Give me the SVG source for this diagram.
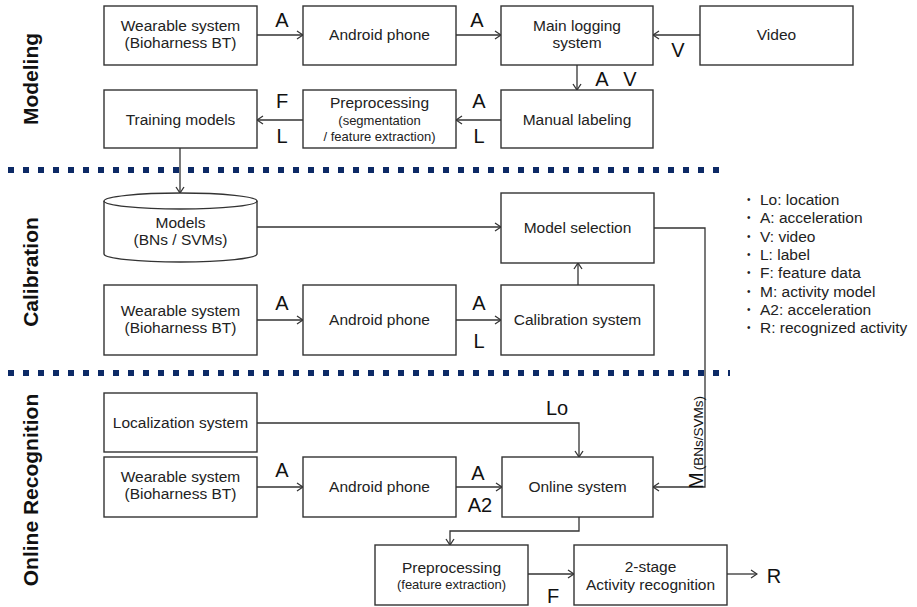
<svg xmlns="http://www.w3.org/2000/svg" width="917" height="607" viewBox="0 0 917 607">
<defs>
<marker id="ah" markerWidth="10" markerHeight="10" refX="9" refY="5" orient="auto" markerUnits="userSpaceOnUse">
<path d="M3,1 L9,5 L3,9" fill="none" stroke="#333" stroke-width="1.3"/>
</marker>
<style>
.box{fill:#fff;stroke:#333;stroke-width:1.4}
.t{font-family:"Liberation Sans",Arial,sans-serif;font-size:15.5px;fill:#222;text-anchor:middle}
.s{font-family:"Liberation Sans",Arial,sans-serif;font-size:13px;fill:#222;text-anchor:middle}
.lbl{font-family:"Liberation Sans",Arial,sans-serif;font-size:20px;fill:#111;text-anchor:middle}
.sec{font-family:"Liberation Sans",Arial,sans-serif;font-size:21px;font-weight:bold;fill:#111;text-anchor:middle}
.leg{font-family:"Liberation Sans",Arial,sans-serif;font-size:15.5px;fill:#222}
.bul{font-family:"Liberation Sans",Arial,sans-serif;font-size:10px;fill:#222}
.c{fill:none;stroke:#333;stroke-width:1.3}
.dot{stroke:#0d2a66;stroke-width:6;stroke-dasharray:6 9;fill:none}
</style>
</defs>
<rect width="917" height="607" fill="#fff"/>

<g id="dividers">
<line class="dot" x1="8" y1="170" x2="720" y2="170"/>
<line class="dot" x1="8" y1="373" x2="730" y2="373"/>
</g>

<g id="sections">
<text class="sec" transform="translate(38,79) rotate(-90)">Modeling</text>
<text class="sec" transform="translate(38,272) rotate(-90)">Calibration</text>
<text class="sec" transform="translate(38,490) rotate(-90)">Online Recognition</text>
</g>

<g id="connectors">
<line class="c" x1="257" y1="35" x2="303" y2="35" marker-end="url(#ah)"/>
<line class="c" x1="456" y1="35" x2="501" y2="35" marker-end="url(#ah)"/>
<line class="c" x1="700" y1="35" x2="653" y2="35" marker-end="url(#ah)"/>
<line class="c" x1="577" y1="65" x2="577" y2="90" marker-end="url(#ah)"/>
<line class="c" x1="501" y1="120" x2="456" y2="120" marker-end="url(#ah)"/>
<line class="c" x1="303" y1="120" x2="257" y2="120" marker-end="url(#ah)"/>
<line class="c" x1="180" y1="148" x2="180" y2="193" marker-end="url(#ah)"/>
<line class="c" x1="257" y1="227" x2="501" y2="227" marker-end="url(#ah)"/>
<line class="c" x1="257" y1="320" x2="303" y2="320" marker-end="url(#ah)"/>
<line class="c" x1="456" y1="320" x2="501" y2="320" marker-end="url(#ah)"/>
<line class="c" x1="578" y1="285" x2="578" y2="263" marker-end="url(#ah)"/>
<polyline class="c" points="654,228 705,228 705,487 653,487" marker-end="url(#ah)"/>
<polyline class="c" points="257,423 579,423 579,457" marker-end="url(#ah)"/>
<line class="c" x1="257" y1="487" x2="303" y2="487" marker-end="url(#ah)"/>
<line class="c" x1="456" y1="487" x2="502" y2="487" marker-end="url(#ah)"/>
<polyline class="c" points="579,517 579,531 450,531 450,545" marker-end="url(#ah)"/>
<line class="c" x1="528" y1="574" x2="574" y2="574" marker-end="url(#ah)"/>
<line class="c" x1="727" y1="574" x2="757" y2="574" marker-end="url(#ah)"/>
</g>

<g id="connector-labels">
<text class="lbl" x="282" y="27">A</text>
<text class="lbl" x="477" y="27">A</text>
<text class="lbl" x="678" y="57">V</text>
<text class="lbl" x="602" y="86">A</text>
<text class="lbl" x="630" y="86">V</text>
<text class="lbl" x="479" y="108">A</text>
<text class="lbl" x="479" y="143">L</text>
<text class="lbl" x="282" y="108">F</text>
<text class="lbl" x="282" y="143">L</text>
<text class="lbl" x="282" y="310">A</text>
<text class="lbl" x="479" y="310">A</text>
<text class="lbl" x="479" y="348">L</text>
<text class="lbl" x="557" y="415">Lo</text>
<text class="lbl" x="282" y="477">A</text>
<text class="lbl" x="478" y="480">A</text>
<text class="lbl" x="480" y="512">A2</text>
<text class="lbl" x="553" y="603">F</text>
<text class="lbl" x="774" y="583">R</text>
<text transform="translate(703,489) rotate(-90)" font-family="Liberation Sans, Arial, sans-serif" fill="#111"><tspan font-size="20">M</tspan><tspan font-size="13.5" dx="2">(BNs/SVMs)</tspan></text>
</g>

<g id="n-wear1"><rect class="box" x="104" y="6" width="153" height="59"/>
<text class="t" x="180.5" y="31">Wearable system</text><text class="t" x="180.5" y="48">(Bioharness BT)</text></g>
<g id="n-android1"><rect class="box" x="303" y="6" width="153" height="59"/>
<text class="t" x="379.5" y="40">Android phone</text></g>
<g id="n-mainlog"><rect class="box" x="501" y="6" width="152" height="59"/>
<text class="t" x="577" y="31">Main logging</text><text class="t" x="577" y="48">system</text></g>
<g id="n-video"><rect class="box" x="700" y="6" width="153" height="59"/>
<text class="t" x="776.5" y="40">Video</text></g>
<g id="n-training"><rect class="box" x="104" y="90" width="153" height="58"/>
<text class="t" x="180.5" y="125">Training models</text></g>
<g id="n-preproc1"><rect class="box" x="303" y="90" width="153" height="58"/>
<text class="t" x="379.5" y="108">Preprocessing</text><text class="s" x="379.5" y="125">(segmentation</text><text class="s" x="379.5" y="141">/ feature extraction)</text></g>
<g id="n-manual"><rect class="box" x="501" y="90" width="152" height="58"/>
<text class="t" x="577" y="125">Manual labeling</text></g>

<g id="n-models">
<path class="box" d="M104,201 A76.5,8 0 0 1 257,201 L257,254 A76.5,8 0 0 1 104,254 Z"/>
<path class="c" d="M104,201 A76.5,8 0 0 0 257,201"/>
<text class="t" x="180.5" y="228">Models</text><text class="t" x="180.5" y="245">(BNs / SVMs)</text></g>
<g id="n-modelsel"><rect class="box" x="501" y="193" width="153" height="70"/>
<text class="t" x="577.5" y="233">Model selection</text></g>
<g id="n-wear2"><rect class="box" x="104" y="285" width="153" height="70"/>
<text class="t" x="180.5" y="316">Wearable system</text><text class="t" x="180.5" y="333">(Bioharness BT)</text></g>
<g id="n-android2"><rect class="box" x="303" y="285" width="153" height="70"/>
<text class="t" x="379.5" y="325">Android phone</text></g>
<g id="n-calib"><rect class="box" x="501" y="285" width="153" height="70"/>
<text class="t" x="577.5" y="325">Calibration system</text></g>

<g id="n-local"><rect class="box" x="104" y="393" width="153" height="59"/>
<text class="t" x="180.5" y="428">Localization system</text></g>
<g id="n-wear3"><rect class="box" x="104" y="457" width="153" height="60"/>
<text class="t" x="180.5" y="482">Wearable system</text><text class="t" x="180.5" y="499">(Bioharness BT)</text></g>
<g id="n-android3"><rect class="box" x="303" y="457" width="153" height="60"/>
<text class="t" x="379.5" y="492">Android phone</text></g>
<g id="n-online"><rect class="box" x="502" y="457" width="151" height="60"/>
<text class="t" x="577.5" y="492">Online system</text></g>
<g id="n-preproc2"><rect class="box" x="375" y="545" width="153" height="60"/>
<text class="t" x="451.5" y="573">Preprocessing</text><text class="s" x="451.5" y="589">(feature extraction)</text></g>
<g id="n-2stage"><rect class="box" x="574" y="545" width="153" height="60"/>
<text class="t" x="650.5" y="572">2-stage</text><text class="t" x="650.5" y="590">Activity recognition</text></g>

<g id="legend">
<text class="bul" x="747" y="203">•</text><text class="leg" x="760" y="205">Lo: location</text>
<text class="bul" x="747" y="221">•</text><text class="leg" x="760" y="223">A: acceleration</text>
<text class="bul" x="747" y="240">•</text><text class="leg" x="760" y="242">V: video</text>
<text class="bul" x="747" y="258">•</text><text class="leg" x="760" y="260">L: label</text>
<text class="bul" x="747" y="276">•</text><text class="leg" x="760" y="278">F: feature data</text>
<text class="bul" x="747" y="295">•</text><text class="leg" x="760" y="297">M: activity model</text>
<text class="bul" x="747" y="313">•</text><text class="leg" x="760" y="315">A2: acceleration</text>
<text class="bul" x="747" y="331">•</text><text class="leg" x="760" y="333">R: recognized activity</text>
</g>
</svg>
